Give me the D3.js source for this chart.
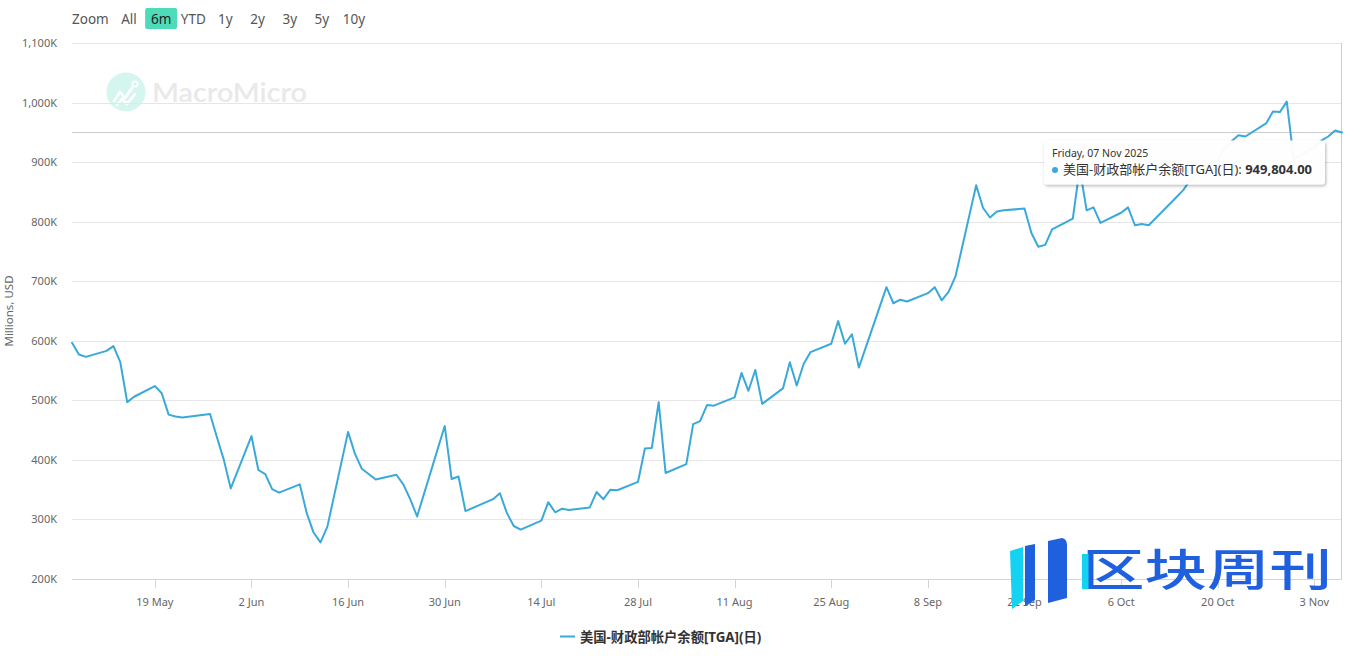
<!DOCTYPE html>
<html><head><meta charset="utf-8">
<script src="https://cdn.jsdelivr.net/npm/d3@7/dist/d3.min.js"></script>
<style>
body{margin:0;background:#fff;}
svg{display:block;font-family:"Noto Sans","Open Sans","Noto Sans CJK SC",sans-serif;}
</style>
</head><body>
<svg id="c" width="1361" height="659"></svg>
<script>
// ---------------- data ----------------
const year = "2025";
const dates = [
"05-07","05-08","05-09","05-12","05-13","05-14","05-15","05-16","05-19","05-20","05-21","05-22","05-23","05-27","05-28","05-29","05-30",
"06-02","06-03","06-04","06-05","06-06","06-09","06-10","06-11","06-12","06-13","06-16","06-17","06-18","06-20","06-23","06-24","06-25","06-26","06-27","06-30",
"07-01","07-02","07-03","07-07","07-08","07-09","07-10","07-11","07-14","07-15","07-16","07-17","07-18","07-21","07-22","07-23","07-24","07-25","07-28","07-29","07-30","07-31",
"08-01","08-04","08-05","08-06","08-07","08-08","08-11","08-12","08-13","08-14","08-15","08-18","08-19","08-20","08-21","08-22","08-25","08-26","08-27","08-28","08-29",
"09-02","09-03","09-04","09-05","09-08","09-09","09-10","09-11","09-12","09-15","09-16","09-17","09-18","09-19","09-22","09-23","09-24","09-25","09-26","09-29","09-30",
"10-01","10-02","10-03","10-06","10-07","10-08","10-09","10-10","10-14","10-15","10-16","10-17","10-20","10-21","10-22","10-23","10-24","10-27","10-28","10-29","10-30","10-31",
"11-03","11-04","11-05","11-06","11-07"
];
const values = [
596500,577000,573000,583000,591000,564000,497000,506000,524000,512000,476000,473000,471000,477000,438000,400000,352000,
440000,383000,376000,351000,345000,359000,311000,278000,261500,288000,447000,410000,385000,367000,375000,359000,334000,305000,343000,457000,
368000,372000,314000,334000,344000,311000,289000,283000,298000,329000,312000,318000,316000,320000,346000,334000,350000,349000,363000,419000,420000,497000,
378000,393000,460000,465000,492000,491000,505000,546000,516000,551000,494000,520000,564000,525000,561000,581000,595000,633000,595000,611000,555000,
690000,663000,669000,666000,680000,690000,668000,682000,708000,861000,823000,807000,817000,819000,822000,781000,758000,761000,787000,805000,890000,
819000,824000,798000,815000,824000,794000,796000,794000,841000,853000,870000,882000,905000,922000,935000,945000,943000,965000,985000,984000,1001500,905000,
925000,936000,943000,953000,949804
];
const yTicks = [200000,300000,400000,500000,600000,700000,800000,900000,1000000,1100000];
const xTickDates = ["05-19","06-02","06-16","06-30","07-14","07-28","08-11","08-25","09-08","09-22","10-06","10-20","11-03"];
const xDomain = ["05-07","11-07"];
const rangeButtons = ["All","6m","YTD","1y","2y","3y","5y","10y"];
const selectedButton = "6m";
const zoomLabel = "Zoom";
const seriesName = "美国-财政部帐户余额[TGA](日)";
const yAxisTitle = "Millions, USD";
const brandText = "MacroMicro";
const overlayText = "区块周刊";

// ---------------- setup ----------------
const parse = d3.utcParse("%Y-%m-%d");
const P = s => parse(year + "-" + s);
const data = dates.map((d,i)=>({date:P(d), value:values[i]}));
const L=72, R=1342, T=43, B=579;
const lineColor = "#3aa9da";

const svg = d3.select("#c");
const defs = svg.append("defs");
const f = defs.append("filter").attr("id","sh").attr("x","-10%").attr("y","-20%").attr("width","130%").attr("height","160%");
f.append("feDropShadow").attr("dx",1).attr("dy",1.5).attr("stdDeviation",1.6).attr("flood-color","#000").attr("flood-opacity",0.3);

const x = d3.scaleUtc().domain(xDomain.map(P)).range([L,R]);
const y = d3.scaleLinear().domain([yTicks[0], yTicks[yTicks.length-1]]).range([B,T]);

// range selector
svg.append("text").attr("x",72).attr("y",24).attr("font-size",13.5).attr("fill","#555").text(zoomLabel);
const btnX = d3.scalePoint().domain(rangeButtons).range([129,354]);
rangeButtons.forEach(b=>{
  const cx = btnX(b);
  if(b===selectedButton){
    svg.append("rect").attr("x",cx-16).attr("y",8).attr("width",32).attr("height",21).attr("rx",2).attr("fill","#4ddbb9");
  }
  svg.append("text").attr("x",cx).attr("y",24).attr("text-anchor","middle").attr("font-size",13.5)
    .attr("fill", b===selectedButton? "#222":"#555").text(b);
});

// MacroMicro watermark
const wm = svg.append("g");
wm.append("circle").attr("cx",126).attr("cy",92).attr("r",19.5).attr("fill","#d5f6ee");
wm.append("path").attr("d","M114,101 L120,92 L125,98 L132,88").attr("fill","none").attr("stroke","#fff").attr("stroke-width",2.6).attr("stroke-linejoin","round").attr("stroke-linecap","round");
wm.append("path").attr("d","M117,105 L122,99 L127,104 L135,94").attr("fill","none").attr("stroke","#fff").attr("stroke-width",2.6).attr("stroke-linejoin","round").attr("stroke-linecap","round");
wm.append("circle").attr("cx",135).attr("cy",84).attr("r",2.6).attr("fill","none").attr("stroke","#fff").attr("stroke-width",1.8);
wm.append("text").attr("x",152).attr("y",102).attr("font-size",26).attr("font-weight",600)
  .attr("font-family","Lato,'Open Sans',sans-serif").attr("fill","#e9e9e9")
  .attr("textLength",155).attr("lengthAdjust","spacingAndGlyphs").text(brandText);

// grid
svg.append("g").selectAll("line").data(yTicks).join("line")
  .attr("x1",L).attr("x2",R).attr("y1",d=>Math.round(y(d))+0.5).attr("y2",d=>Math.round(y(d))+0.5)
  .attr("stroke","#e6e6e6").attr("stroke-width",1);

// y labels
const fmtK = v => d3.format(",")(v/1000) + "K";
svg.append("g").selectAll("text").data(yTicks).join("text")
  .attr("x",57).attr("y",d=>y(d)+4).attr("text-anchor","end").attr("font-size",11).attr("fill","#666").text(fmtK);
svg.append("text").attr("transform",`translate(13,311) rotate(-90)`).attr("text-anchor","middle")
  .attr("font-size",11.5).attr("fill","#666").text(yAxisTitle);

// x axis
svg.append("line").attr("x1",L).attr("x2",R).attr("y1",B+0.5).attr("y2",B+0.5).attr("stroke","#d4d4d4");
const xt = xTickDates.map(P);
svg.append("g").selectAll("line").data(xt).join("line")
  .attr("x1",d=>Math.round(x(d))+0.5).attr("x2",d=>Math.round(x(d))+0.5).attr("y1",B).attr("y2",B+9).attr("stroke","#d4d4d4");
const fmtX = d3.utcFormat("%-d %b");
svg.append("g").selectAll("text").data(xt).join("text")
  .attr("x",d=>x(d)).attr("y",606).attr("text-anchor","middle").attr("font-size",11).attr("fill","#666").text(fmtX);

// crosshairs on hovered (last) point
const last = data[data.length-1];
svg.append("line").attr("x1",L).attr("x2",R).attr("y1",Math.round(y(last.value))+0.5).attr("y2",Math.round(y(last.value))+0.5).attr("stroke","#cccccc");
svg.append("line").attr("x1",Math.round(x(last.date))-0.5).attr("x2",Math.round(x(last.date))-0.5).attr("y1",T).attr("y2",B).attr("stroke","#cccccc");

// series line
const line = d3.line().x(d=>x(d.date)).y(d=>y(d.value));
svg.append("path").datum(data).attr("d",line).attr("fill","none").attr("stroke",lineColor)
  .attr("stroke-width",2).attr("stroke-linejoin","round").attr("stroke-linecap","round");

// tooltip
const px = x(last.date), py = y(last.value);
const tg = svg.append("g").attr("transform",`translate(${px-298},${py+8})`);
tg.append("rect").attr("x",0).attr("y",0).attr("width",281).attr("height",44).attr("rx",3)
  .attr("fill","rgba(255,255,255,0.96)").attr("filter","url(#sh)");
tg.append("text").attr("x",8).attr("y",17).attr("font-size",10.5).attr("fill","#333")
  .text(d3.utcFormat("%A, %d %b %Y")(last.date));
tg.append("circle").attr("cx",11).attr("cy",29.5).attr("r",3).attr("fill",lineColor);
const t2 = tg.append("text").attr("x",19).attr("y",34).attr("font-size",13).attr("fill","#333");
t2.append("tspan").text(seriesName + ": ");
t2.append("tspan").attr("font-weight","bold").text(d3.format(",.2f")(last.value));

// legend
const lg = svg.append("g");
lg.append("line").attr("x1",560).attr("x2",575).attr("y1",636.5).attr("y2",636.5).attr("stroke",lineColor).attr("stroke-width",2);
lg.append("text").attr("x",580).attr("y",641.5).attr("font-size",13.3).attr("font-weight","bold").attr("fill","#333")
  .attr("font-family","'Noto Sans','Noto Sans CJK SC',sans-serif").text(seriesName);

// overlay logo (区块周刊)
const og = svg.append("g");
og.append("path").attr("d","M1010,551 L1023,547 L1023,601 L1012,609 Z").attr("fill","#14d2f2");
og.append("path").attr("d","M1025,546 L1035,544 L1035,600 L1025,606 Z").attr("fill","#1f60df");
og.append("path").attr("d","M1048,541 L1062,538 Q1067,539 1067,545 L1067,598 L1048,603 Z").attr("fill","#1f60df");
og.append("text").attr("x",1082).attr("y",586).attr("font-size",44).attr("font-weight",500)
  .attr("font-family","'Noto Sans CJK SC',sans-serif").attr("fill","#1f60df")
  .attr("textLength",250).attr("lengthAdjust","spacingAndGlyphs").text(overlayText);
og.append("rect").attr("x",1082).attr("y",554).attr("width",6.5).attr("height",35).attr("fill","#14d2f2");
</script>
</body></html>
